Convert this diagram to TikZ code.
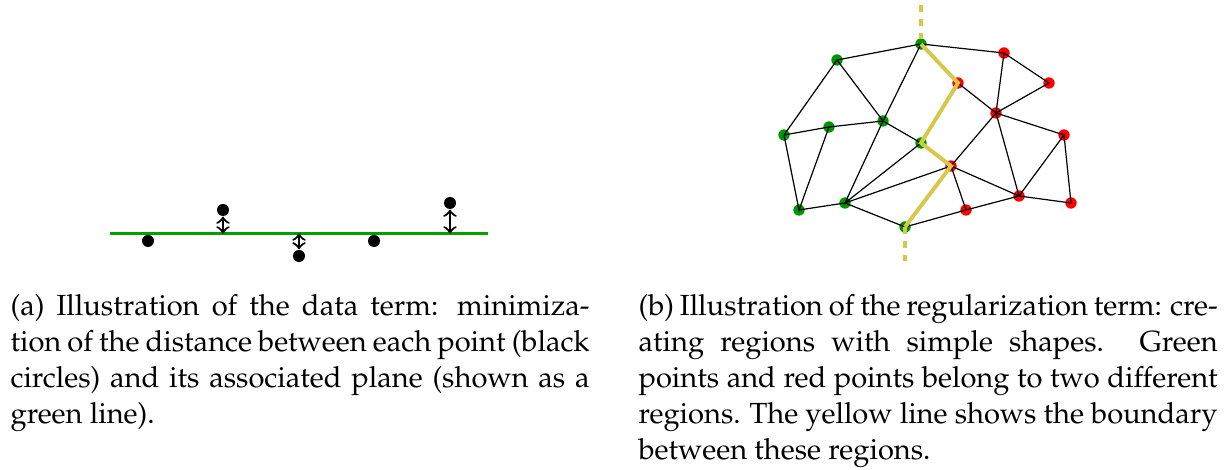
\documentclass[tikz,border=0pt]{standalone}
\usepackage[T1]{fontenc}
\usepackage{mathpazo}
\definecolor{planegreen}{RGB}{0,160,0}
\definecolor{ptgreen}{RGB}{0,150,0}
\definecolor{ptred}{RGB}{255,0,0}
\definecolor{bndyellow}{RGB}{214,200,72}

\begin{document}
\begin{tikzpicture}[
  x=0.3333pt, y=-0.3333pt,
  dot/.style={circle, fill, inner sep=0pt, minimum size=3.8pt},
  gdot/.style={dot, fill=ptgreen},
  rdot/.style={dot, fill=ptred},
  bnd/.style={bndyellow, line width=1.3pt},
  subcap/.style={anchor=north west, inner sep=0pt, text width=193pt, align=justify,
    font=\fontsize{9.7}{12}\selectfont},
  >=to
]
  \useasboundingbox (0,0) rectangle (1231,470);

  % (a) data term
  \coordinate (l0) at (110,233.5);
  \coordinate (l1) at (488,233.5);
  \draw[planegreen, line width=1.3pt] (l0) -- (l1);
  \node[dot, minimum size=4pt] (p1) at (148,241) {};
  \node[dot, minimum size=4pt] (p2) at (223,210) {};
  \node[dot, minimum size=4pt] (p3) at (299,256) {};
  \node[dot, minimum size=4pt] (p4) at (374,241) {};
  \node[dot, minimum size=4pt] (p5) at (450,203) {};
  \coordinate (f2) at (223,233.5);
  \coordinate (f3) at (299,233.5);
  \coordinate (f5) at (450,233.5);
  \draw[<->, line width=0.7pt] (p2) -- (f2);
  \draw[<->, line width=0.7pt] (p3) -- (f3);
  \draw[<->, line width=0.7pt] (p5) -- (f5);

  % (b) regularization term
  \node[gdot] (g1) at (921,44)  {};
  \node[gdot] (g2) at (837,60)  {};
  \node[gdot] (g3) at (883,121) {};
  \node[gdot] (g4) at (829,127) {};
  \node[gdot] (g5) at (784,135) {};
  \node[gdot] (g6) at (921,143) {};
  \node[gdot] (g7) at (845,203) {};
  \node[gdot] (g8) at (799,210) {};
  \node[gdot] (g9) at (905,227) {};
  \node[rdot] (r1) at (1004,53)  {};
  \node[rdot] (r2) at (958,83)   {};
  \node[rdot] (r3) at (1049,83)  {};
  \node[rdot] (r4) at (996,113)  {};
  \node[rdot] (r5) at (1064,135) {};
  \node[rdot] (r6) at (951,166)  {};
  \node[rdot] (r7) at (1019,196) {};
  \node[rdot] (r8) at (1071,203) {};
  \node[rdot] (r9) at (966,210)  {};

  \draw (g2.center) -- (g1.center) -- (r1.center) -- (r3.center) -- (r4.center) -- (r1.center);
  \draw (g5.center) -- (g2.center) -- (g3.center) -- (g1.center);
  \draw (g5.center) -- (g4.center) -- (g3.center) -- (g6.center) -- (g7.center) -- (g3.center);
  \draw (g5.center) -- (g8.center) -- (g4.center);
  \draw (g8.center) -- (g7.center) -- (g9.center) -- (r9.center) -- (r7.center) -- (r8.center) -- (r5.center) -- (r7.center);
  \draw (g7.center) -- (r6.center) -- (r9.center);
  \draw (r2.center) -- (r4.center) -- (r5.center);
  \draw (r6.center) -- (r4.center) -- (r7.center) -- (r6.center);

  \coordinate (top) at (921,5);
  \coordinate (bot) at (905,267);
  \draw[bnd, dash pattern=on 2.3pt off 2.3pt] (top) -- (g1.center);
  \draw[bnd, dash pattern=on 2.3pt off 2.3pt] (g9.center) -- (bot);
  \draw[bnd] (g1.center) -- (r2.center) -- (g6.center) -- (r6.center) -- (g9.center);

  % captions
  \node[subcap] (capa) at (10,294) {(a) Illustration of the data term: minimiza-\linebreak
    tion of the distance between each point (black\linebreak
    circles) and its associated plane (shown as a\linebreak
    green line).};
  \node[subcap] (capb) at (638,294) {(b) Illustration of the regularization term: cre-\linebreak
    ating regions with simple shapes. Green\linebreak
    points and red points belong to two different\linebreak
    regions. The yellow line shows the boundary\linebreak
    between these regions.};
\end{tikzpicture}
\end{document}
